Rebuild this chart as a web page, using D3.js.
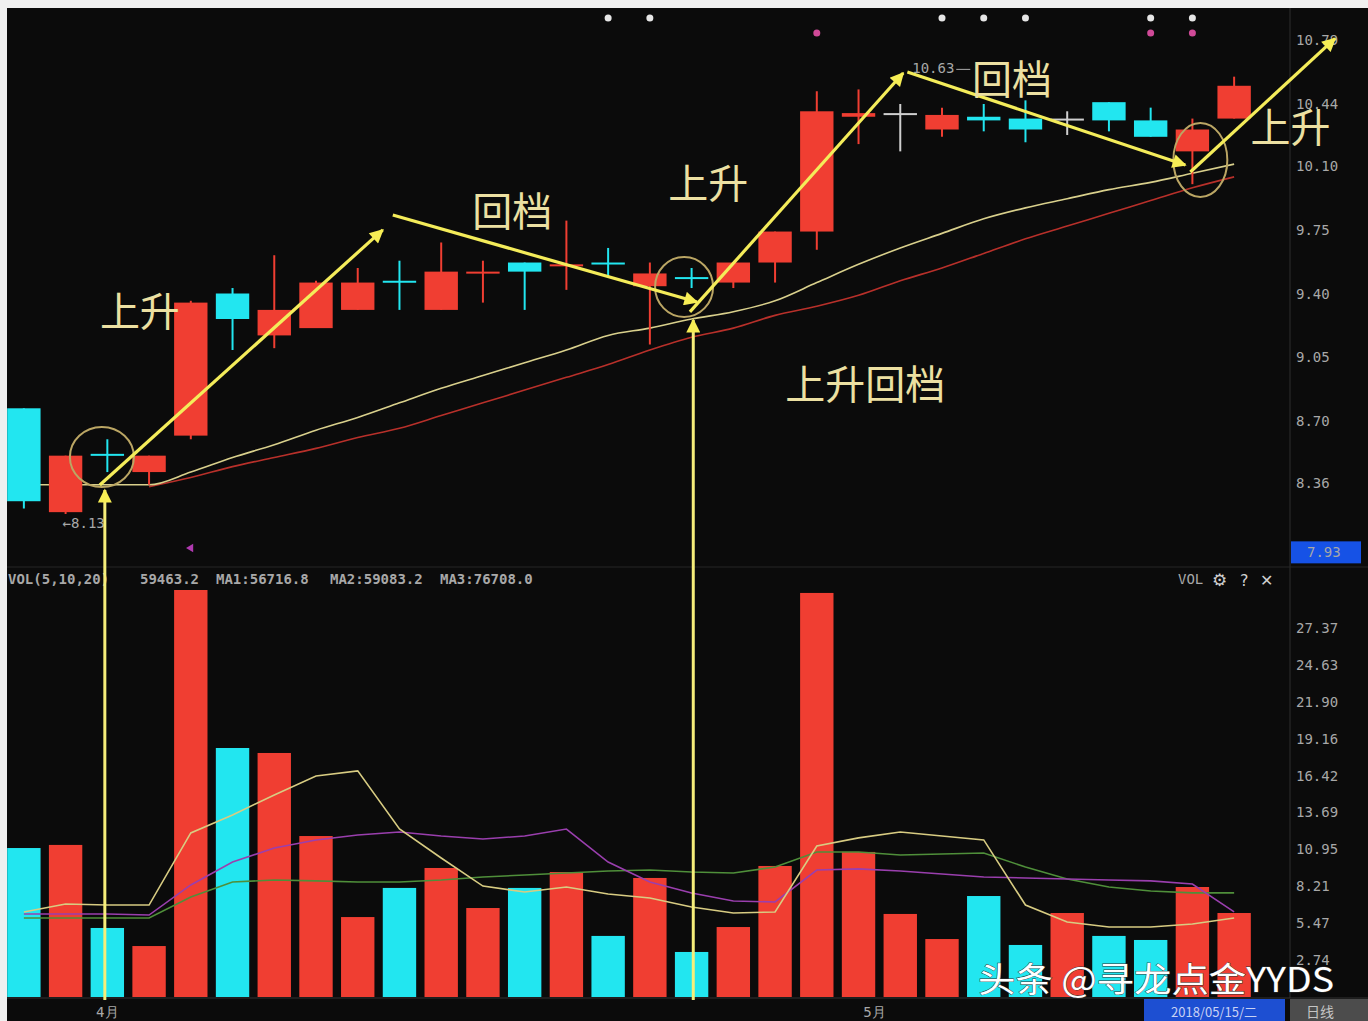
<!DOCTYPE html>
<html lang="zh">
<head>
<meta charset="UTF-8">
<title>上升回档</title>
<script src="https://cdn.jsdelivr.net/npm/d3@7"></script>
<style>
  html, body { margin: 0; padding: 0; background: #f0f0f0; }
  svg { display: block; }
  .ax { font-family: "DejaVu Sans Mono", "Liberation Mono", monospace; font-size: 14px; fill: #a8a8a8; }
  .note { font-family: "Noto Sans CJK SC", sans-serif; font-size: 40px; fill: #ece0a2; }
</style>
</head>
<body>
<svg id="chart" width="1368" height="1021"></svg>
<script>
// trading days 2018-03-29 .. 2018-05-15
var days = ['03-29','03-30','04-02','04-03','04-04','04-09','04-10','04-11','04-12','04-13',
            '04-16','04-17','04-18','04-19','04-20','04-23','04-24','04-25','04-26','04-27',
            '05-02','05-03','05-04','05-07','05-08','05-09','05-10','05-11','05-14','05-15'];

var open  = [8.77, 8.20, 8.52, 8.42, 8.62, 9.40, 9.17, 9.21, 9.31, 9.47, 9.31, 9.51, 9.57, 9.55, 9.57,
             9.44, 9.49, 9.46, 9.57, 9.74, 10.37, 10.39, 10.30, 10.37, 10.36, 10.36, 10.45, 10.35, 10.18, 10.36];
var close = [8.26, 8.51, 8.51, 8.51, 9.35, 9.26, 9.31, 9.46, 9.46, 9.46, 9.52, 9.52, 9.52, 9.56, 9.56,
             9.51, 9.48, 9.57, 9.74, 10.40, 10.39, 10.39, 10.38, 10.35, 10.30, 10.36, 10.35, 10.26, 10.30, 10.54];
var high  = [8.77, 8.51, 8.60, 8.51, 9.36, 9.43, 9.61, 9.47, 9.54, 9.58, 9.68, 9.58, 9.57, 9.80, 9.65,
             9.57, 9.54, 9.57, 9.74, 10.51, 10.52, 10.44, 10.42, 10.44, 10.46, 10.40, 10.45, 10.42, 10.36, 10.59];
var low   = [8.22, 8.19, 8.42, 8.35, 8.60, 9.09, 9.10, 9.21, 9.31, 9.31, 9.31, 9.35, 9.31, 9.42, 9.49,
             9.12, 9.43, 9.43, 9.46, 9.64, 10.22, 10.18, 10.26, 10.29, 10.23, 10.27, 10.29, 10.26, 10.00, 10.36];

// price moving averages
var maShort = [8.35, 8.35, 8.35, 8.35, 8.42, 8.50, 8.57, 8.65, 8.72, 8.80, 8.88, 8.95, 9.02, 9.09, 9.17,
               9.21, 9.26, 9.30, 9.36, 9.46, 9.56, 9.65, 9.73, 9.81, 9.87, 9.92, 9.97, 10.01, 10.06, 10.11];
var maLong  = [null, null, null, 8.34, 8.39, 8.45, 8.50, 8.55, 8.61, 8.66, 8.73, 8.80, 8.87, 8.94, 9.01,
               9.09, 9.16, 9.21, 9.28, 9.33, 9.39, 9.47, 9.54, 9.62, 9.70, 9.77, 9.84, 9.91, 9.98, 10.04];

// volume (axis units) and its averages
var vol   = [11.05, 11.28, 5.12, 3.78, 30.5, 18.47, 18.10, 11.94, 5.93, 8.09, 9.57, 6.60, 8.09, 9.27, 4.53,
             8.83, 3.34, 5.19, 9.72, 29.97, 10.76, 6.16, 4.30, 7.49, 3.86, 6.23, 4.53, 4.23, 8.16, 6.23];
var vma5  = [6.31, 6.90, 6.82, 6.82, 12.17, 13.50, 14.99, 16.39, 16.77, 12.46, 10.31, 8.23, 7.79, 8.16, 7.64,
             7.34, 6.68, 6.23, 6.31, 11.20, 11.80, 12.24, 11.94, 11.65, 6.82, 5.56, 5.19, 5.19, 5.42, 5.86];
var vma10 = [6.16, 6.16, 6.16, 6.08, 8.31, 10.01, 11.05, 11.65, 12.02, 12.24, 11.94, 11.72, 11.94, 12.46, 10.01,
             8.53, 7.72, 7.12, 7.05, 9.42, 9.50, 9.35, 9.12, 8.90, 8.83, 8.75, 8.68, 8.61, 8.38, 6.31];
var vma20 = [5.86, 5.86, 5.86, 5.86, 7.42, 8.53, 8.68, 8.61, 8.53, 8.53, 8.68, 8.90, 9.05, 9.20, 9.35,
             9.42, 9.27, 9.20, 9.64, 10.76, 10.76, 10.53, 10.61, 10.68, 9.64, 8.75, 8.16, 7.86, 7.72, 7.72];

var priceTicks = [10.79, 10.44, 10.10, 9.75, 9.40, 9.05, 8.70, 8.36];
var volTicks = [27.37, 24.63, 21.90, 19.16, 16.42, 13.69, 10.95, 8.21, 5.47, 2.74];
var monthLabels = [['04-02', '4月'], ['05-02', '5月']];
var whiteDots = ['04-20', '04-23', '05-04', '05-07', '05-08', '05-11', '05-14'];
var pinkDots = ['04-27', '05-11', '05-14'];

// hand drawn notes, in [day index, price]
var upArrows = [[[1.82, 8.349], [8.60, 9.749]], [[15.96, 9.299], [21.07, 10.61]], [[27.95, 10.067], [31.42, 10.80]]];
var downArrows = [[[8.84, 9.831], [16.13, 9.353]], [[21.17, 10.616], [27.83, 10.105]]];
var riseArrows = [[1.94, 8.322], [16.04, 9.255]];
var rings = [[1.87, 8.503, 32, 30], [15.82, 9.436, 29, 30], [28.19, 10.133, 27, 37]];
var notes = [['上升', 2.78, 9.30], ['回档', 11.70, 9.85], ['上升', 16.40, 10.0], ['回档', 23.68, 10.57],
             ['上升', 30.35, 10.31], ['上升回档', 20.16, 8.90]];

var red = '#f03e32', cyan = '#22e6f0', flat = '#cfcfcf';

var svg = d3.select('#chart');

var x = d3.scaleBand().domain(days).range([3, 1255]).paddingInner(0.2).paddingOuter(0.1);
var bw = x.bandwidth();
function cx(i) { return x(days[i]) + bw / 2; }
function fx(f) { return x(days[0]) + bw / 2 + f * x.step(); }
var y = d3.scaleLinear().domain([8.36, 10.44]).range([483, 104]);
var vy = d3.scaleLinear().domain([0, 27.37]).range([997, 628]);

function col(i) {
  if (close[i] > open[i]) return red;
  if (close[i] < open[i]) return cyan;
  return flat;
}

// background
svg.append('rect').attr('x', 7).attr('y', 8).attr('width', 1361).attr('height', 1013).attr('fill', '#0b0b0b');

var defs = svg.append('defs');
defs.append('clipPath').attr('id', 'pclip').append('rect')
  .attr('x', 7).attr('y', 8).attr('width', 1283).attr('height', 558);
defs.append('clipPath').attr('id', 'vclip').append('rect')
  .attr('x', 7).attr('y', 590).attr('width', 1283).attr('height', 408);
defs.append('marker').attr('id', 'head').attr('viewBox', '0 0 10 10')
  .attr('refX', 9).attr('refY', 5).attr('markerWidth', 16).attr('markerHeight', 14)
  .attr('markerUnits', 'userSpaceOnUse').attr('orient', 'auto')
  .append('path').attr('d', 'M0,0 L10,5 L0,10 Z').attr('fill', '#f7ee55');

// frame lines
svg.append('line').attr('x1', 1290).attr('x2', 1290).attr('y1', 8).attr('y2', 998).attr('stroke', '#2e2e2e');
svg.append('line').attr('x1', 7).attr('x2', 1368).attr('y1', 567).attr('y2', 567).attr('stroke', '#262626');
svg.append('line').attr('x1', 7).attr('x2', 1368).attr('y1', 998).attr('y2', 998).attr('stroke', '#333');

// ---- price panel ----
var pg = svg.append('g').attr('clip-path', 'url(#pclip)');

var line = d3.line().defined(function(d) { return d != null; })
  .x(function(d, i) { return cx(i); }).y(function(d) { return y(d); }).curve(d3.curveMonotoneX);
pg.append('path').datum(maLong).attr('d', line).attr('fill', 'none').attr('stroke', '#b8302a').attr('stroke-width', 1.6);
pg.append('path').datum(maShort).attr('d', line).attr('fill', 'none').attr('stroke', '#d9d08c').attr('stroke-width', 1.6);

var candles = pg.selectAll('g.c').data(days).enter().append('g').attr('class', 'c');
candles.append('line')
  .attr('x1', function(d, i) { return cx(i); }).attr('x2', function(d, i) { return cx(i); })
  .attr('y1', function(d, i) { return y(high[i]); }).attr('y2', function(d, i) { return y(low[i]); })
  .attr('stroke', function(d, i) { return col(i); }).attr('stroke-width', 2);
candles.append('rect')
  .attr('x', function(d) { return x(d); }).attr('width', bw)
  .attr('y', function(d, i) { return y(Math.max(open[i], close[i])); })
  .attr('height', function(d, i) { return Math.max(2, Math.abs(y(open[i]) - y(close[i]))); })
  .attr('fill', function(d, i) { return col(i); });

// low / high marks
svg.append('text').attr('class', 'ax').attr('x', cx(1) - 3).attr('y', y(8.13) + 3).attr('font-size', 13).text('←8.13');
svg.append('text').attr('class', 'ax').attr('x', cx(21) + 12).attr('y', y(10.63) + 4).text('10.63');
svg.append('line').attr('x1', cx(21) + 56).attr('x2', cx(21) + 70).attr('y1', y(10.63)).attr('y2', y(10.63)).attr('stroke', '#aaa');
svg.append('path').attr('d', d3.symbol().type(d3.symbolTriangle).size(30)())
  .attr('transform', 'translate(' + cx(4) + ',548) rotate(-90)').attr('fill', '#b03ab0');

// top dots
svg.selectAll('circle.wd').data(whiteDots).enter().append('circle').attr('class', 'wd')
  .attr('cx', function(d) { return x(d) + bw / 2; }).attr('cy', 18).attr('r', 3.5).attr('fill', '#e6e6e6');
svg.selectAll('circle.pd').data(pinkDots).enter().append('circle').attr('class', 'pd')
  .attr('cx', function(d) { return x(d) + bw / 2; }).attr('cy', 33).attr('r', 3.5).attr('fill', '#d04a98');

// price axis
svg.selectAll('text.pt').data(priceTicks).enter().append('text').attr('class', 'ax pt')
  .attr('x', 1296).attr('y', function(d) { return y(d) + 5; }).text(function(d) { return d.toFixed(2); });
svg.append('rect').attr('x', 1291).attr('y', y(7.93) - 20).attr('width', 70).attr('height', 22).attr('fill', '#1652e6');
svg.append('text').attr('class', 'ax').attr('x', 1307).attr('y', y(7.93) - 4).attr('fill', '#e8eeff').text('7.93');

// ---- volume panel ----
var vg = svg.append('g').attr('clip-path', 'url(#vclip)');
vg.selectAll('rect.v').data(days).enter().append('rect').attr('class', 'v')
  .attr('x', function(d) { return x(d); }).attr('width', bw)
  .attr('y', function(d, i) { return vy(vol[i]); })
  .attr('height', function(d, i) { return vy(0) - vy(vol[i]); })
  .attr('fill', function(d, i) { return col(i) === flat ? red : col(i); });

var vline = d3.line().x(function(d, i) { return cx(i); }).y(function(d) { return vy(d); });
[[vma20, '#4f8f3a'], [vma10, '#9a3fae'], [vma5, '#d8cc82']].forEach(function(s) {
  vg.append('path').datum(s[0]).attr('d', vline).attr('fill', 'none').attr('stroke', s[1]).attr('stroke-width', 1.6);
});

svg.selectAll('text.vt').data(volTicks).enter().append('text').attr('class', 'ax vt')
  .attr('x', 1296).attr('y', function(d) { return vy(d) + 5; }).text(function(d) { return d.toFixed(2); });

// volume header
var hdr = [['VOL(5,10,20)', 8, '#b8b8b8'], ['59463.2', 140, '#c8c8c8'], ['MA1:56716.8', 216, '#dcd67a'],
           ['MA2:59083.2', 330, '#b43cc0'], ['MA3:76708.0', 440, '#3cb83c']];
hdr.forEach(function(h) {
  svg.append('text').attr('class', 'ax').attr('x', h[1]).attr('y', 584).attr('fill', h[2])
    .attr('font-weight', 'bold').attr('font-size', 13.5).text(h[0]);
});
svg.append('text').attr('class', 'ax').attr('x', 1178).attr('y', 584).attr('font-size', 13).attr('fill', '#bdbdbd').text('VOL');
svg.append('text').attr('x', 1212).attr('y', 586).attr('font-size', 17).attr('fill', '#d0d0d0')
  .attr('font-family', 'DejaVu Sans').text('⚙');
svg.append('text').attr('x', 1240).attr('y', 586).attr('font-size', 16).attr('fill', '#d0d0d0')
  .attr('font-family', 'DejaVu Sans').text('?');
svg.append('text').attr('x', 1260).attr('y', 586).attr('font-size', 16).attr('fill', '#d0d0d0')
  .attr('font-family', 'DejaVu Sans').text('✕');

// bottom strip
svg.selectAll('text.mo').data(monthLabels).enter().append('text').attr('class', 'ax mo')
  .attr('x', function(d, i) { return x(d[0]) + bw / 2 + (i ? 16 : 0); }).attr('y', 1017).attr('text-anchor', 'middle')
  .attr('font-family', 'Noto Sans CJK SC').attr('font-size', 13).text(function(d) { return d[1]; });
svg.append('rect').attr('x', 1144).attr('y', 999).attr('width', 141).attr('height', 22).attr('fill', '#1d4fd2');
svg.append('text').attr('x', 1214).attr('y', 1017).attr('text-anchor', 'middle').attr('fill', '#c8d2f4')
  .attr('font-family', 'Noto Sans CJK SC').attr('font-size', 13).text('2018/05/15/二');
svg.append('rect').attr('x', 1290).attr('y', 999).attr('width', 78).attr('height', 22).attr('fill', '#4c4c4c');
svg.append('text').attr('x', 1320).attr('y', 1017).attr('text-anchor', 'middle').attr('fill', '#c4c4c4')
  .attr('font-family', 'Noto Sans CJK SC').attr('font-size', 14).text('日线');

// ---- hand drawn notes ----
var ag = svg.append('g');
rings.forEach(function(r) {
  ag.append('ellipse').attr('cx', fx(r[0])).attr('cy', y(r[1])).attr('rx', r[2]).attr('ry', r[3])
    .attr('fill', 'none').attr('stroke', '#bba664').attr('stroke-width', 2);
});
riseArrows.forEach(function(a) {
  ag.append('line').attr('x1', fx(a[0])).attr('x2', fx(a[0])).attr('y1', 1000).attr('y2', y(a[1]))
    .attr('stroke', '#f6ee7a').attr('stroke-width', 3).attr('marker-end', 'url(#head)');
});
upArrows.concat(downArrows).forEach(function(a) {
  ag.append('line').attr('x1', fx(a[0][0])).attr('y1', y(a[0][1])).attr('x2', fx(a[1][0])).attr('y2', y(a[1][1]))
    .attr('stroke', '#f4ec5a').attr('stroke-width', 3.2).attr('marker-end', 'url(#head)');
});
notes.forEach(function(n) {
  ag.append('text').attr('class', 'note').attr('x', fx(n[1])).attr('y', y(n[2]) + 14)
    .attr('text-anchor', 'middle').text(n[0]);
});

// watermark
svg.append('text').attr('x', 978).attr('y', 992).attr('font-family', 'Noto Sans CJK SC').attr('font-size', 34)
  .attr('textLength', 356).attr('lengthAdjust', 'spacingAndGlyphs')
  .attr('fill', '#ffffff').attr('stroke', '#333').attr('stroke-width', 0.8).attr('paint-order', 'stroke')
  .text('头条 @寻龙点金YYDS');
</script>
</body>
</html>
